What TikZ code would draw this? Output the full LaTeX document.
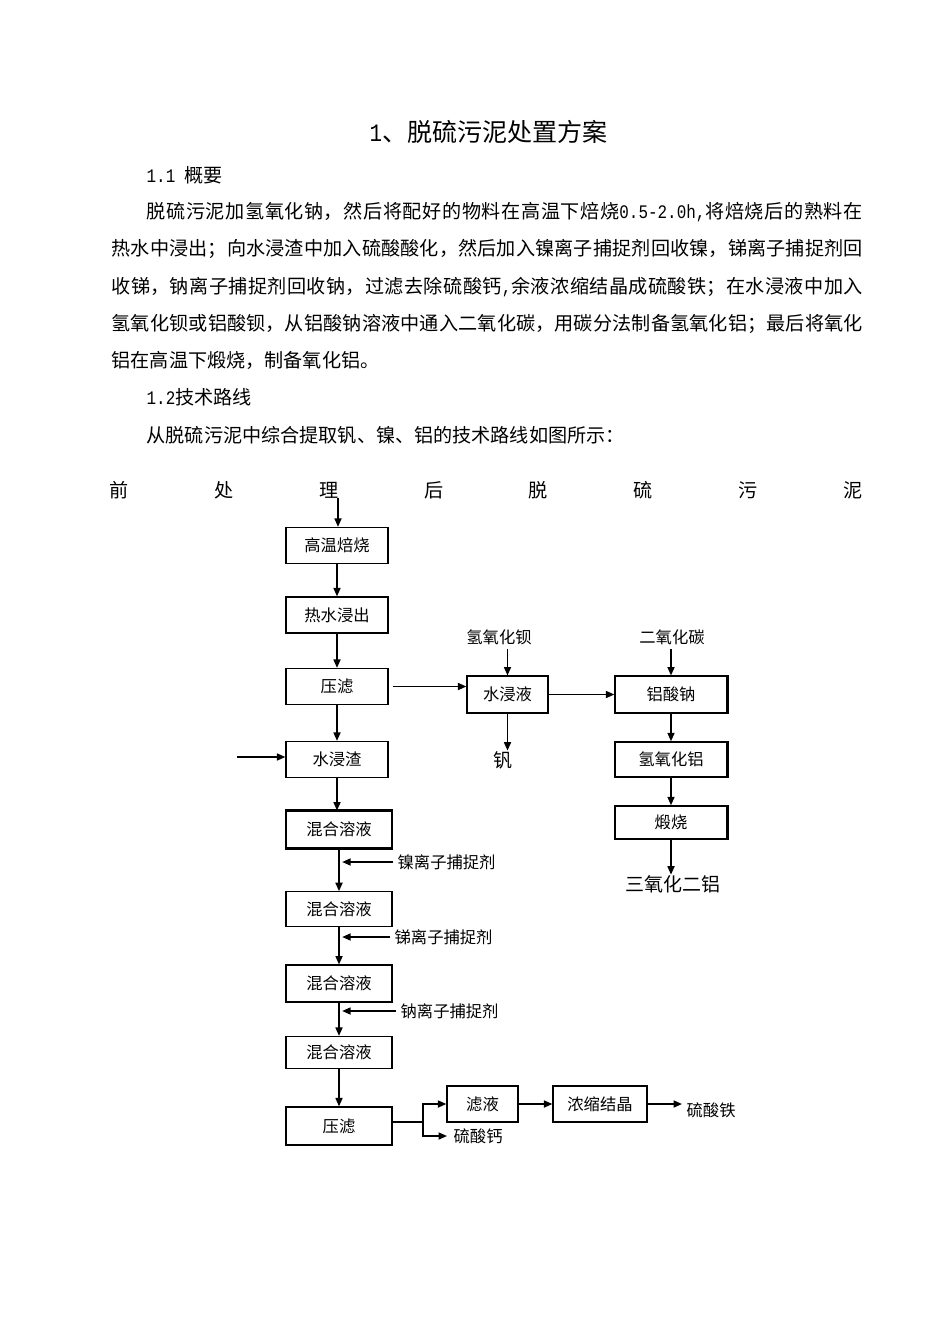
\documentclass[tikz,border=0pt]{standalone}
\usepackage{fontspec}
\setmainfont{Noto Sans CJK SC}
\newfontfamily\halfw[FakeStretch=0.833]{Liberation Mono}
\XeTeXlinebreaklocale "zh"
\XeTeXlinebreakskip = 0pt plus 1pt
\usetikzlibrary{arrows.meta, calc}

\begin{document}
\begin{tikzpicture}[x=0.025cm, y=-0.025cm, line width=0.9pt,
  stage/.style={draw, inner sep=0pt, minimum height=0.9cm, font=\fontsize{11.6pt}{12pt}\selectfont},
  tag/.style={inner sep=0pt, font=\fontsize{11.6pt}{12pt}\selectfont},
  bigtag/.style={inner sep=0pt, font=\fontsize{13.5pt}{14pt}\selectfont},
  flow/.style={-{Triangle[length=6pt,width=5pt]}, line width=1.1pt},
  body/.style={inner sep=0pt, font=\fontsize{13.6pt}{26.4pt}\selectfont}]

\useasboundingbox (0,0) rectangle (950,1344);

% Title and the text of the page
\node[inner sep=0pt, font=\fontsize{17.8pt}{20pt}\selectfont] (title) at (488.5,131.7) {{\halfw 1}、脱硫污泥处置方案};
\node[body, anchor=west] (sec1) at (146,175) {{\halfw 1.1 }概要};
\node[body, anchor=north west, text width=18.775cm, align=justify] (summary) at (111,202) {\noindent\hspace*{24.9pt}脱硫污泥加氢氧化钠，然后将配好的物料在高温下焙烧{\halfw 0.5-2.0h,}将焙烧后的熟料在\linebreak
热水中浸出；向水浸渣中加入硫酸酸化，然后加入镍离子捕捉剂回收镍，锑离子捕捉剂回\linebreak
收锑，钠离子捕捉剂回收钠，过滤去除硫酸钙{\halfw ,}余液浓缩结晶成硫酸铁；在水浸液中加入\linebreak
氢氧化钡或铝酸钡，从铝酸钠溶液中通入二氧化碳，用碳分法制备氢氧化铝；最后将氧化\linebreak
铝在高温下煅烧，制备氧化铝。};
\node[body, anchor=west] (sec2) at (146,397.5) {{\halfw 1.2}技术路线};
\node[body, anchor=west] (intro) at (146,435.5) {从脱硫污泥中综合提取钒、镍、铝的技术路线如图所示：};

% The feed line, spread over the whole width
\foreach \ch [count=\k from 0] in {前,处,理,后,脱,硫,污,泥} {
  \node[body] (head\k) at ({119+104.86*\k},490) {\ch};
}

% Boxes of the main line
\node[stage, minimum width=2.55cm] (roast) at (337,545.5) {高温焙烧};
\node[stage, minimum width=2.55cm] (hotleach) at (337,615) {热水浸出};
\node[stage, minimum width=2.55cm] (filter) at (337,686.5) {压滤};
\node[stage, minimum width=2.55cm] (residue) at (337,759.5) {水浸渣};
\foreach \i/\y/\h in {1/829.5/0.92cm, 2/909/0.86cm, 3/983.5/0.92cm, 4/1052.5/0.8cm} {
  \node[stage, minimum width=2.65cm, minimum height=\h] (mix\i) at (339,\y) {混合溶液};
}
\node[stage, minimum width=2.65cm, minimum height=0.95cm] (press) at (339,1126) {压滤};

% Boxes of the side lines
\node[stage, minimum width=2.025cm, minimum height=0.92cm] (leach) at (507.5,694.5) {水浸液};
\node[stage, minimum width=2.8cm, minimum height=0.92cm] (aluminate) at (671,694.5) {铝酸钠};
\node[stage, minimum width=2.8cm, minimum height=0.88cm] (alhydr) at (671,759.5) {氢氧化铝};
\node[stage, minimum width=2.8cm, minimum height=0.83cm] (calcine) at (671,822.5) {煅烧};
\node[stage, minimum width=1.775cm] (filtrate) at (482.5,1104) {滤液};
\node[stage, minimum width=2.35cm] (conc) at (600,1104) {浓缩结晶};

% Labels without a box
\node[tag] (baoh) at (499,637) {氢氧化钡};
\node[tag] (co2) at (672,637) {二氧化碳};
\node[bigtag] (vanad) at (503,760) {钒};
\node[bigtag] (alumina) at (673,884) {三氧化二铝};
\node[tag, anchor=west] (ni) at (397,862) {镍离子捕捉剂};
\node[tag, anchor=west] (sb) at (394,937) {锑离子捕捉剂};
\node[tag, anchor=west] (na) at (400,1011) {钠离子捕捉剂};
\node[tag, anchor=west] (ferric) at (686,1110) {硫酸铁};
\node[tag, anchor=west] (gypsum) at (453,1136) {硫酸钙};

% Heavier edges, as in the scan
\foreach \n in {aluminate, alhydr, calcine} {
  \draw[line width=1.8pt] (\n.north east) -- (\n.south east);
}
\draw[line width=1.6pt] (mix1.north west) -- (mix1.north east);
\draw[line width=1.6pt] (mix1.south west) -- (mix1.south east);

% Main line
\coordinate (feed) at (338,498);
\draw[flow] (feed) -- (feed |- roast.north);
\draw[flow] (roast) -- (hotleach);
\draw[flow] (hotleach) -- (filter);
\draw[flow] (filter) -- (residue);
\coordinate (acid) at (237,757);
\draw[flow] (acid) -- (acid -| residue.west);
\draw[flow] (residue.south) -- (residue.south |- mix1.north);
\foreach \i\j in {1/2, 2/3, 3/4} {
  \draw[flow] (mix\i) -- (mix\j);
}
\draw[flow] (mix4) -- (press);

% Agents added between the mixing steps
\foreach \a\m in {ni/mix1, sb/mix2, na/mix3} {
  \draw[flow, shorten <=0.1cm, shorten >=0.08cm] (\a.west) -- (\a.west -| \m.south);
}

% Water leach liquor and the alumina line
\draw[flow, shorten <=0.1cm] (filter.east) -- (filter.east -| leach.west);
\draw[flow, shorten <=0.1cm] (baoh.south -| leach.north) -- (leach.north);
\draw[flow] (leach.south) -- (leach.south |- vanad.north);
\draw[flow] (leach) -- (aluminate);
\draw[flow, shorten <=0.1cm] (co2.south -| aluminate.north) -- (aluminate.north);
\draw[flow] (aluminate) -- (alhydr);
\draw[flow] (alhydr) -- (calcine);
\draw[flow] (calcine) -- (calcine.south |- alumina.north);

% Filtration at the end
\coordinate (split) at (423,1122);
\draw (split -| press.east) -- (split);
\draw[flow] (split) |- (filtrate.west);
\draw[flow, shorten >=0.15cm] (split) |- (gypsum.west);
\draw[flow] (filtrate) -- (conc);
\draw[flow, shorten >=0.1cm] (conc.east) -- (conc.east -| ferric.west);

\end{tikzpicture}
\end{document}
